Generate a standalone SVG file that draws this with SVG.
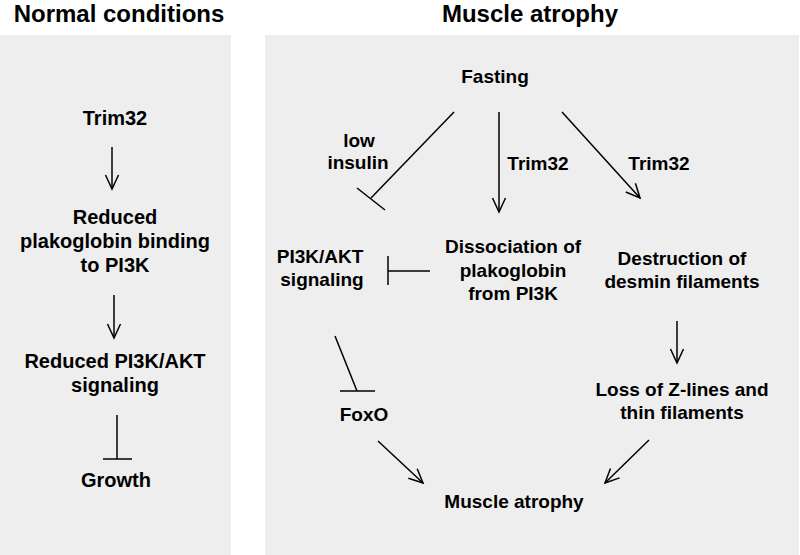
<svg xmlns="http://www.w3.org/2000/svg" width="800" height="555" viewBox="0 0 800 555">
<defs>
<marker id="arr" markerUnits="userSpaceOnUse" markerWidth="20" markerHeight="20" viewBox="-16 -10 20 20" refX="0" refY="0" orient="auto">
<path d="M-14,-6.5 L0,0 L-14,6.5" fill="none" stroke="#000" stroke-width="1.5"/>
</marker>
</defs>
<style>
.panel{fill:#eeeeee}
.title{font-family:"Liberation Sans",Arial,sans-serif;font-weight:bold;font-size:24px;fill:#000;text-anchor:middle}
.t{font-family:"Liberation Sans",Arial,sans-serif;font-weight:bold;font-size:19px;fill:#000;text-anchor:middle}
.tl{font-family:"Liberation Sans",Arial,sans-serif;font-weight:bold;font-size:20px;fill:#000;text-anchor:middle}
.c{stroke:#000;stroke-width:1.5;fill:none}
.a{marker-end:url(#arr)}
</style>
<rect class="panel" x="0" y="35" width="231" height="520"/>
<rect class="panel" x="265" y="35" width="534" height="520"/>
<text class="title" x="119" y="22">Normal conditions</text>
<text class="title" x="530" y="22">Muscle atrophy</text>

<g id="n_trim32_left"><text class="tl" x="115" y="125">Trim32</text></g>
<g id="n_reduced_binding"><text class="tl" x="115" y="224">Reduced</text><text class="tl" x="115" y="248">plakoglobin binding</text><text class="tl" x="115" y="272">to PI3K</text></g>
<g id="n_reduced_signaling"><text class="tl" x="115" y="368">Reduced PI3K/AKT</text><text class="tl" x="115" y="392">signaling</text></g>
<g id="n_growth"><text class="tl" x="116" y="487">Growth</text></g>

<g id="n_fasting"><text class="t" x="495" y="83">Fasting</text></g>
<g id="n_pi3k"><text class="t" x="320" y="263">PI3K/AKT</text><text class="t" x="322" y="286">signaling</text></g>
<g id="n_dissociation"><text class="t" x="513" y="253">Dissociation of</text><text class="t" x="513" y="277">plakoglobin</text><text class="t" x="513" y="300">from PI3K</text></g>
<g id="n_destruction"><text class="t" x="682" y="265">Destruction of</text><text class="t" x="682" y="288">desmin filaments</text></g>
<g id="n_foxo"><text class="t" x="364" y="421">FoxO</text></g>
<g id="n_loss"><text class="t" x="682" y="396">Loss of Z-lines and</text><text class="t" x="682" y="419">thin filaments</text></g>
<g id="n_atrophy"><text class="t" x="514" y="508">Muscle atrophy</text></g>

<g id="connectors">
<line class="c a" x1="112" y1="147" x2="112" y2="189"/>
<line class="c a" x1="114" y1="295" x2="114" y2="338"/>
<line class="c" x1="117" y1="415" x2="117" y2="459"/>
<line class="c" x1="103" y1="459" x2="132" y2="459"/>

<line class="c" x1="454" y1="112" x2="371" y2="198"/>
<line class="c" x1="357" y1="188" x2="385" y2="210"/>
<text class="t" x="359" y="147">low</text>
<text class="t" x="358" y="169">insulin</text>

<line class="c a" x1="499" y1="112" x2="499" y2="212"/>
<text class="t" x="538" y="170">Trim32</text>

<line class="c a" x1="562" y1="112" x2="640" y2="198"/>
<text class="t" x="659" y="170">Trim32</text>

<line class="c" x1="430" y1="271" x2="388" y2="271"/>
<line class="c" x1="388" y1="256" x2="388" y2="285"/>

<line class="c" x1="335" y1="336" x2="357" y2="391"/>
<line class="c" x1="340" y1="391" x2="375" y2="391"/>

<line class="c a" x1="677" y1="321" x2="677" y2="363"/>
<line class="c a" x1="378" y1="441" x2="423" y2="483"/>
<line class="c a" x1="649" y1="440" x2="605" y2="483"/>
</g>
</svg>
